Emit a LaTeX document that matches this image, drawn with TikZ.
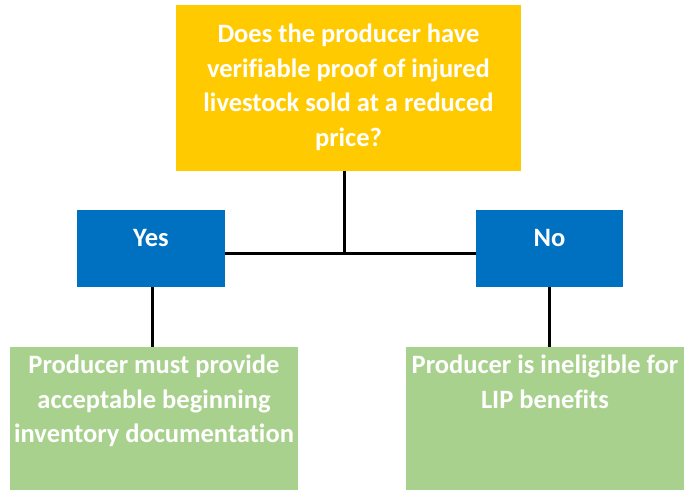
\documentclass[tikz,border=0pt]{standalone}
\usepackage{fontspec}
\setmainfont[Ligatures=NoCommon]{Carlito}
\definecolor{qgold}{HTML}{FFCA00}
\definecolor{qblue}{HTML}{0070C0}
\definecolor{qgreen}{HTML}{A9D18E}
\begin{document}
\begin{tikzpicture}[x=1pt,y=-1pt,
  box/.style={rectangle,inner sep=0pt,draw=none},
  txt/.style={anchor=north,inner sep=0pt,align=center,text=white,
    font=\fontsize{26.5}{34.5}\selectfont\bfseries},
  conn/.style={line width=3pt,black}]
\useasboundingbox (0,0) rectangle (684,491);
\node[box,fill=qgold,minimum width=345pt,minimum height=166pt] (top) at (348.5,88) {};
\node[box,fill=qblue,minimum width=148pt,minimum height=77pt] (yes) at (151,248.5) {};
\node[box,fill=qblue,minimum width=147pt,minimum height=77pt] (no) at (549.5,248.5) {};
\node[box,fill=qgreen,minimum width=288pt,minimum height=143pt] (gl) at (154,418.5) {};
\node[box,fill=qgreen,minimum width=278pt,minimum height=143pt] (gr) at (545,418.5) {};
\node[txt] (ttop) at ([yshift=-13.5pt]top.north) {\strut Does the producer have\\verifiable proof of injured\\livestock sold at a reduced\\price?};
\node[txt] (tyes) at ([yshift=-12.5pt]yes.north) {\strut Yes};
\node[txt] (tno) at ([yshift=-12.5pt]no.north) {\strut No};
\node[txt] (tgl) at ([yshift=-2.5pt]gl.north) {\strut Producer must provide\\acceptable beginning\\inventory documentation};
\node[txt] (tgr) at ([yshift=-2.5pt]gr.north) {\strut Producer is ineligible for\\LIP benefits};
\coordinate (j) at (344,253);
\draw[conn] (top.south -| j) -- (j);
\draw[conn] (yes.east |- j) -- (no.west |- j);
\draw[conn] ([xshift=1pt]yes.south) -- ([xshift=1pt]yes.south |- gl.north);
\draw[conn] (no.south) -- (no.south |- gr.north);
\end{tikzpicture}
\end{document}
